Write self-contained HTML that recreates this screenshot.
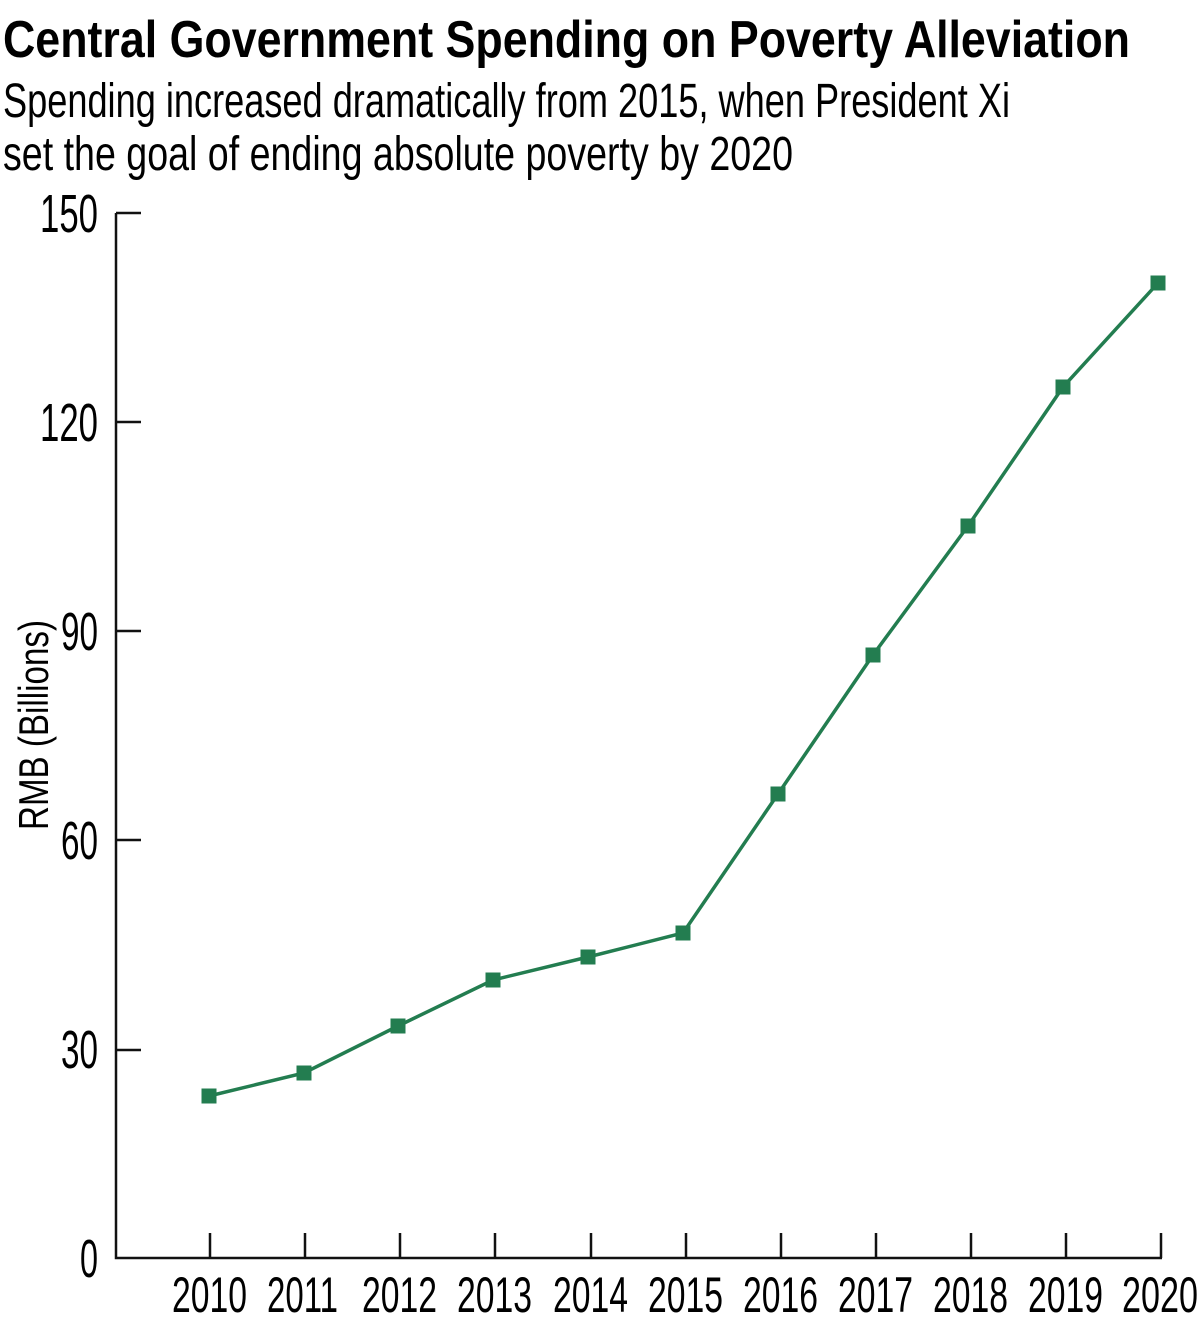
<!DOCTYPE html>
<html><head><style>body{margin:0;background:#fff}svg{display:block}</style></head><body>
<svg width="1200" height="1326" xmlns="http://www.w3.org/2000/svg" font-family="Liberation Sans, sans-serif">
<text x="3" y="57" font-size="52" font-weight="bold" textLength="1127" lengthAdjust="spacingAndGlyphs">Central Government Spending on Poverty Alleviation</text>
<text x="3" y="117" font-size="48" textLength="1007" lengthAdjust="spacingAndGlyphs">Spending increased dramatically from 2015, when President Xi</text>
<text x="3" y="170" font-size="48" textLength="790" lengthAdjust="spacingAndGlyphs">set the goal of ending absolute poverty by 2020</text>
<text transform="translate(48,725) rotate(-90)" font-size="42" text-anchor="middle" textLength="210" lengthAdjust="spacingAndGlyphs">RMB (Billions)</text>
<g stroke="#111" stroke-width="2.5" fill="none">
<path d="M116 213V1258H1162"/>
<path d="M116 213h25M116 422h25M116 631h25M116 840h25M116 1050h25"/>
<path d="M210 1233v25M305 1233v25M400 1233v25M495 1233v25M591 1233v25M686 1233v25M781 1233v25M876 1233v25M971 1233v25M1066 1233v25M1161 1233v25"/>
</g>
<g font-size="54" text-anchor="end" lengthAdjust="spacingAndGlyphs">
<text x="98" y="232" textLength="58" lengthAdjust="spacingAndGlyphs">150</text><text x="98" y="441" textLength="58" lengthAdjust="spacingAndGlyphs">120</text><text x="98" y="650" textLength="37" lengthAdjust="spacingAndGlyphs">90</text><text x="98" y="859" textLength="37" lengthAdjust="spacingAndGlyphs">60</text><text x="98" y="1068" textLength="37" lengthAdjust="spacingAndGlyphs">30</text><text x="98" y="1277" textLength="18" lengthAdjust="spacingAndGlyphs">0</text>
</g>
<g font-size="50">
<text x="172" y="1312" textLength="75" lengthAdjust="spacingAndGlyphs">2010</text><text x="267" y="1312" textLength="71" lengthAdjust="spacingAndGlyphs">2011</text><text x="362" y="1312" textLength="75" lengthAdjust="spacingAndGlyphs">2012</text><text x="457" y="1312" textLength="75" lengthAdjust="spacingAndGlyphs">2013</text><text x="553" y="1312" textLength="75" lengthAdjust="spacingAndGlyphs">2014</text><text x="648" y="1312" textLength="75" lengthAdjust="spacingAndGlyphs">2015</text><text x="743" y="1312" textLength="75" lengthAdjust="spacingAndGlyphs">2016</text><text x="838" y="1312" textLength="75" lengthAdjust="spacingAndGlyphs">2017</text><text x="933" y="1312" textLength="75" lengthAdjust="spacingAndGlyphs">2018</text><text x="1028" y="1312" textLength="75" lengthAdjust="spacingAndGlyphs">2019</text><text x="1122" y="1312" textLength="76" lengthAdjust="spacingAndGlyphs">2020</text>
</g>
<polyline fill="none" stroke="#237d50" stroke-width="3.5" points="209,1096 304,1073 398,1026 493,980 588,957 683,933 778,794 873,655 968,526 1063,387 1158,283"/>
<g fill="#237d50">
<rect x="201.5" y="1088.5" width="15" height="15"/><rect x="296.5" y="1065.5" width="15" height="15"/><rect x="390.5" y="1018.5" width="15" height="15"/><rect x="485.5" y="972.5" width="15" height="15"/><rect x="580.5" y="949.5" width="15" height="15"/><rect x="675.5" y="925.5" width="15" height="15"/><rect x="770.5" y="786.5" width="15" height="15"/><rect x="865.5" y="647.5" width="15" height="15"/><rect x="960.5" y="518.5" width="15" height="15"/><rect x="1055.5" y="379.5" width="15" height="15"/><rect x="1150.5" y="275.5" width="15" height="15"/>
</g>
</svg>
</body></html>
